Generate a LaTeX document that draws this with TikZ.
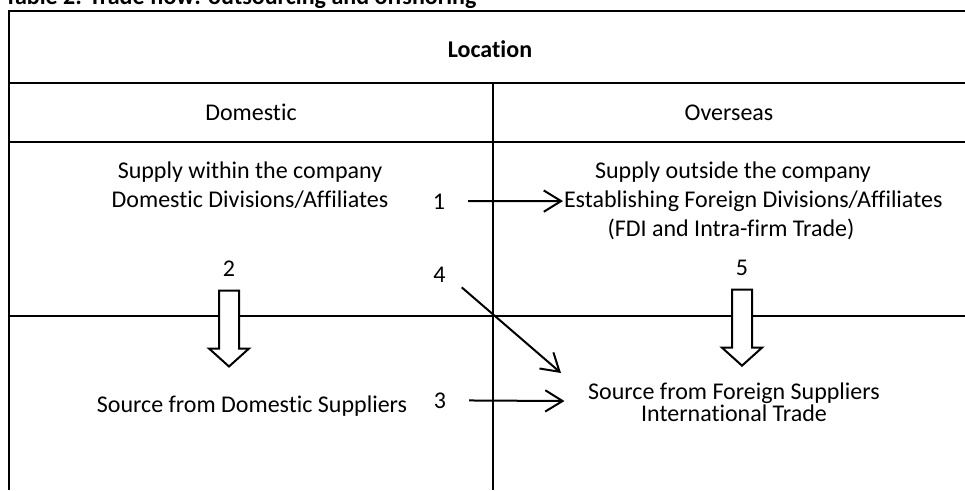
\documentclass[tikz,border=0pt]{standalone}
\usepackage{fontspec}
\setmainfont{Carlito}[Ligatures=NoCommon]
\usetikzlibrary{arrows.meta}

\begin{document}
\begin{tikzpicture}[x=0.75pt,y=-0.75pt,line width=1.5pt,
  every node/.style={inner sep=0pt,font=\fontsize{18}{21.75}\selectfont},
  head/.style={anchor=base,font=\fontsize{18}{21.75}\selectfont\bfseries},
  txt/.style={align=center},num/.style={anchor=base},
  flow/.style={-{Straight Barb[length=13pt,width=16pt]}},
  block/.style={fill=white,line join=miter}]
			\useasboundingbox (0,0) rectangle (965,490);
			\draw (9,490) -- (9,11) -- (965,11);
			\draw (9,83) -- (965,83);
			\draw (9,142) -- (965,142);
			\draw (9,316) -- (965,316);
			\draw (493,83) -- (493,490);
			\node[head,anchor=base west] (title) at (4,4) {Table 2: Trade flow: outsourcing and offshoring};
			\node[head] (loc) at (490,57) {Location};
			\node[num] (dom) at (251,120) {Domestic};
			\node[num] (ovs) at (729,120) {Overseas};
			\node[txt] (within) at (250,185.5) {Supply within the company\\Domestic Divisions/Affiliates};
			\node[num] (outside) at (733,178) {Supply outside the company};
			\node[num,anchor=base west] (estab) at (563,207) {Establishing Foreign Divisions/Affiliates};
			\node[num] (fdi) at (731,236) {(FDI and Intra-firm Trade)};
			\node[num] (srcdom) at (252,412) {Source from Domestic Suppliers};
			\node[txt,font=\fontsize{18}{16.5}\selectfont] (srcfor) at (734,402) {Source from Foreign Suppliers\\International Trade};
			\node[num] (one) at (439,209) {1};
			\node[num] (two) at (229,276) {2};
			\node[num] (three) at (440,408) {3};
			\node[num] (four) at (439.5,282) {4};
			\node[num] (five) at (742,275) {5};
			\coordinate (tip4) at (561,373);
			\draw[flow,shorten <=16.5pt] (one) -- (estab);
			\draw[flow,shorten <=16.5pt,shorten >=17pt] (three) -- (srcfor);
			\draw[flow,shorten <=15pt] (four.east) -- (tip4);
			\draw[block] (two.south) ++(-10,13.5) -- ++(20,0) -- ++(0,58) -- ++(10,0) -- ++(-20,18) -- ++(-20,-18) -- ++(10,0) -- cycle;
			\draw[block] (five.south) ++(-10,13.5) -- ++(20,0) -- ++(0,58) -- ++(10,0) -- ++(-20,18) -- ++(-20,-18) -- ++(10,0) -- cycle;
		\end{tikzpicture}
\end{document}
